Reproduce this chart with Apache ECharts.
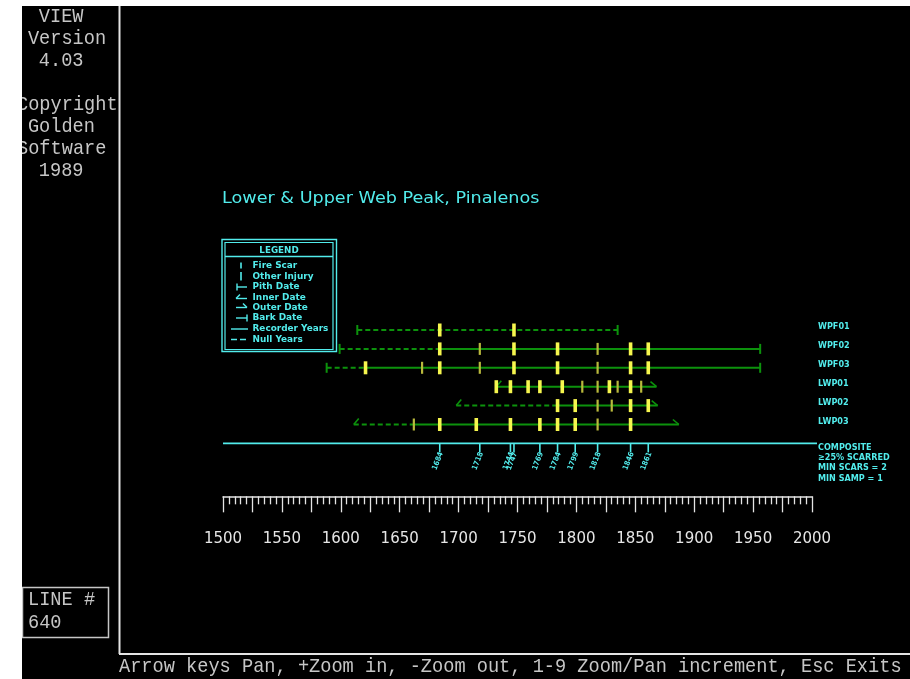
<!DOCTYPE html>
<html>
<head>
<meta charset="utf-8">
<script src="https://cdn.jsdelivr.net/npm/echarts@6/dist/echarts.min.js"></script>
<style>
  html, body { margin: 0; padding: 0; background: #ffffff; }
  #chart { position: absolute; left: 22px; top: 6px; width: 888px; height: 673px; background: #000000; overflow: hidden; }
</style>
</head>
<body>
<div id="chart"></div>
<script>
// Fire-scar history chart, Lower & Upper Web Peak, Pinalenos

const axisMin = 1500;
const axisMax = 2000;
const majorStep = 25;
const labelStep = 50;

const samples = ['WPF01', 'WPF02', 'WPF03', 'LWP01', 'LWP02', 'LWP03'];
const firstYears = [1614, 1599, 1588, 1732, 1698, 1611];
const firstKinds = ['pith', 'pith', 'pith', 'inner', 'inner', 'inner'];
const lastYears = [1835, 1956, 1956, 1868, 1869, 1887];
const lastKinds = ['bark', 'bark', 'bark', 'outer', 'outer', 'outer'];
// first recorder year of each sample (null years come before it; null = no recorder years)
const recorderFrom = [null, 1684, 1621, 1732, 1784, 1662];

const fireScars = [
  [1684, 1747],
  [1684, 1747, 1784, 1846, 1861],
  [1621, 1684, 1747, 1784, 1846, 1861],
  [1732, 1744, 1759, 1769, 1788, 1828, 1846],
  [1784, 1799, 1846, 1861],
  [1684, 1715, 1744, 1769, 1784, 1799, 1846]
];
const otherInjuries = [
  [],
  [1718, 1818],
  [1669, 1718, 1818],
  [1805, 1818, 1835, 1855],
  [1818, 1830],
  [1662, 1818]
];

const compositeYears = [1684, 1718, 1744, 1747, 1769, 1784, 1799, 1818, 1846, 1861];
const compositeNotes = ['COMPOSITE', '\u226525% SCARRED', 'MIN SCARS = 2', 'MIN SAMP = 1'];

const legendTitle = 'LEGEND';
const legendItems = ['Fire Scar', 'Other Injury', 'Pith Date', 'Inner Date', 'Outer Date', 'Bark Date', 'Recorder Years', 'Null Years'];
const chartTitle = 'Lower & Upper Web Peak, Pinalenos';

const sideText = ['VIEW', 'Version', '4.03', '', 'Copyright', 'Golden', 'Software', '1989'];
const sideColumn = [2, 1, 2, 0, 0, 1, 0, 2];
const lineBoxText = ['LINE #', '640'];
const statusText = 'Arrow keys Pan, +Zoom in, -Zoom out, 1-9 Zoom/Pan increment, Esc Exits';

// colours and fonts
const GREEN = '#0c920c';
const CYAN = '#52ecec';
const SCAR = '#f6f64e';
const INJURY = '#b9b93c';
const DOS = '#c6c6c6';
const FRAME = '#e4e4e4';
const SMALL = 'bold 9px "DejaVu Sans Condensed", "DejaVu Sans", sans-serif';
const MONO = '18px "Liberation Mono", "DejaVu Sans Mono", monospace';

// the chart canvas sits inside the white page margin
const OX = 22, OY = 6;
const X = v => v - OX;
const Y = v => v - OY;

const compositeRow = samples.length;

// ---- series data built from the arrays above ----
const sampleData = samples.map((_, i) => [firstYears[i], i]);
const markData = [];
fireScars.forEach((ys, i) => ys.forEach(y => markData.push([y, i, 0])));
otherInjuries.forEach((ys, i) => ys.forEach(y => markData.push([y, i, 1])));
const compositeData = compositeYears.map(y => [y, compositeRow]);

function seg(x1, y1, x2, y2, extra) {
  return {
    type: 'line',
    shape: { x1, y1, x2, y2 },
    style: Object.assign({ stroke: GREEN, lineWidth: 2 }, extra || {})
  };
}

function renderSample(params, api) {
  const i = api.value(1);
  const first = firstYears[i], last = lastYears[i];
  const split = recorderFrom[i] == null ? last : recorderFrom[i];
  const a = api.coord([first, i]);
  const b = api.coord([last, i]);
  const s = api.coord([split, i]);
  const cy = a[1];
  const kids = [];
  if (split > first) kids.push(seg(a[0], cy, s[0], cy, { lineDash: [5, 3] }));
  if (split < last) kids.push(seg(s[0], cy, b[0], cy));
  if (firstKinds[i] === 'pith') {
    kids.push(seg(a[0], cy - 5, a[0], cy + 5));
  } else {
    kids.push(seg(a[0], cy, a[0] + 5, cy - 6, { lineWidth: 1.6 }));
  }
  if (lastKinds[i] === 'bark') {
    kids.push(seg(b[0], cy - 5, b[0], cy + 5));
  } else {
    kids.push(seg(b[0] - 6, cy - 5, b[0], cy, { lineWidth: 1.6 }));
  }
  const r = api.coord([axisMax, i]);
  kids.push({
    type: 'text',
    style: { x: r[0] + 6, y: cy - 3, text: samples[i], fill: CYAN, font: SMALL, verticalAlign: 'middle' }
  });
  return { type: 'group', children: kids };
}

function renderMark(params, api) {
  const p = api.coord([api.value(0), api.value(1)]);
  const fire = api.value(2) === 0;
  const w = fire ? 3.6 : 2.2;
  const h = fire ? 13 : 12;
  return {
    type: 'rect',
    shape: { x: p[0] - w / 2, y: p[1] - h / 2, width: w, height: h },
    style: { fill: fire ? SCAR : INJURY }
  };
}

function renderComposite(params, api) {
  const p = api.coord([api.value(0), api.value(1)]);
  return {
    type: 'group',
    children: [
      { type: 'line', shape: { x1: p[0], y1: p[1], x2: p[0], y2: p[1] + 9 }, style: { stroke: CYAN, lineWidth: 1.6 } },
      {
        type: 'text',
        x: p[0] + 1.5, y: p[1] + 9,
        rotation: 1.2,
        style: { text: String(api.value(0)), fill: CYAN, font: 'bold 7.5px "DejaVu Sans Condensed", sans-serif', align: 'right', verticalAlign: 'middle' }
      }
    ]
  };
}

function renderBaseline(params, api) {
  const a = api.coord([axisMin, compositeRow]);
  const b = api.coord([axisMax, compositeRow]);
  const kids = [
    { type: 'line', shape: { x1: a[0], y1: a[1], x2: b[0] + 5, y2: b[1] }, style: { stroke: CYAN, lineWidth: 1.6 } }
  ];
  compositeNotes.forEach((t, k) => {
    kids.push({
      type: 'text',
      style: { x: b[0] + 6, y: a[1] + 4 + k * 10.3, text: t, fill: CYAN, font: SMALL, verticalAlign: 'middle' }
    });
  });
  return { type: 'group', children: kids };
}

// ---- legend box ----
function legendGraphic() {
  const g = [];
  const L = (x1, y1, x2, y2, extra) => ({
    type: 'line', shape: { x1: X(x1), y1: Y(y1), x2: X(x2), y2: Y(y2) },
    style: Object.assign({ stroke: CYAN, lineWidth: 1.4 }, extra || {})
  });
  g.push({ type: 'rect', shape: { x: X(222), y: Y(239.5), width: 114.5, height: 112 }, style: { fill: 'none', stroke: CYAN, lineWidth: 1.4 } });
  g.push({ type: 'rect', shape: { x: X(225), y: Y(242.5), width: 108, height: 107 }, style: { fill: 'none', stroke: CYAN, lineWidth: 1.2 } });
  g.push(L(225, 256.5, 333, 256.5));
  g.push({ type: 'text', x: X(279), y: Y(250.5), style: { text: legendTitle, fill: CYAN, font: SMALL, align: 'center', verticalAlign: 'middle' }, scaleX: 1.08 });
  const ys = [265.5, 276.5, 287, 297.5, 307.5, 318, 329, 339.5];
  legendItems.forEach((t, k) => {
    g.push({ type: 'text', x: X(252.5), y: Y(ys[k]), scaleX: 1.1, style: { text: t, fill: CYAN, font: SMALL, verticalAlign: 'middle' } });
  });
  const y = ys;
  g.push(L(241, y[0] - 3, 241, y[0] + 3, { lineWidth: 1.6 }));
  g.push(L(241, y[1] - 4.5, 241, y[1] + 4, { lineWidth: 1.6 }));
  g.push(L(237, y[2], 247, y[2]));
  g.push(L(237, y[2] - 3.5, 237, y[2] + 3.5));
  g.push(L(236, y[3] + 1, 247, y[3] + 1));
  g.push(L(236, y[3] + 1, 240, y[3] - 3));
  g.push(L(236, y[4], 247, y[4]));
  g.push(L(243, y[4] - 4, 247, y[4]));
  g.push(L(236, y[5], 247, y[5]));
  g.push(L(247, y[5] - 3.5, 247, y[5] + 3.5));
  g.push(L(231, y[6], 248, y[6]));
  g.push(L(231, y[7], 248, y[7], { lineDash: [6, 3] }));
  return g;
}

// ---- screen frame and text panels ----
function frameGraphic() {
  const g = [];
  const dosText = (t, x, y) => ({
    type: 'text', x: X(x), y: Y(y), scaleX: 1.035, scaleY: 1.12,
    style: { text: t, fill: DOS, font: MONO, verticalAlign: 'middle' }
  });
  g.push({ type: 'line', shape: { x1: X(119.5), y1: 0, x2: X(119.5), y2: Y(654) }, style: { stroke: FRAME, lineWidth: 2 } });
  g.push({ type: 'line', shape: { x1: X(119), y1: Y(654), x2: 888, y2: Y(654) }, style: { stroke: FRAME, lineWidth: 2 } });
  sideText.forEach((t, k) => {
    if (!t) return;
    g.push(dosText(t, 17 + sideColumn[k] * 10.9, 16.5 + k * 22));
  });
  g.push({ type: 'rect', shape: { x: 0.5, y: Y(587.5), width: 86, height: 50 }, style: { fill: 'none', stroke: DOS, lineWidth: 1.5 } });
  lineBoxText.forEach((t, k) => g.push(dosText(t, 28, 600 + k * 23)));
  g.push(dosText(statusText, 119, 667));
  g.push({ type: 'text', x: X(222), y: Y(199), scaleX: 1.1, style: { text: chartTitle, fill: CYAN, font: '16px "DejaVu Sans", sans-serif', verticalAlign: 'middle' } });
  return g;
}

const chart = echarts.init(document.getElementById('chart'), null, { renderer: 'canvas' });

// row spacing: rows at 330 + 18.9*i, axis line near y = 496
const rowStep = 18.9;
const yMin = -1, yMax = 8.8;

chart.setOption({
  backgroundColor: '#000000',
  animation: false,
  graphic: { elements: frameGraphic().concat(legendGraphic()) },
  grid: {
    left: X(223),
    right: 910 - 812,
    top: Y(330 - rowStep),
    height: (yMax - yMin) * rowStep,
    containLabel: false
  },
  xAxis: {
    type: 'value',
    min: axisMin,
    max: axisMax,
    interval: majorStep,
    axisLine: { show: true, onZero: false, lineStyle: { color: FRAME, width: 1.5 } },
    axisTick: { show: true, length: 16, lineStyle: { color: FRAME, width: 1.3 } },
    minorTick: { show: true, splitNumber: 5, length: 8, lineStyle: { color: FRAME, width: 1.3 } },
    splitLine: { show: false },
    minorSplitLine: { show: false },
    axisLabel: {
      margin: 35,
      color: '#e6e6e6',
      fontSize: 15,
      fontFamily: '"DejaVu Sans", sans-serif',
      formatter: v => (v % labelStep === 0 ? String(v) : '')
    }
  },
  yAxis: {
    type: 'value',
    inverse: true,
    min: yMin,
    max: yMax,
    show: false
  },
  series: [
    {
      type: 'custom', name: 'samples', data: sampleData, renderItem: renderSample,
      encode: { x: 0, y: 1 }, clip: false, z: 3
    },
    {
      type: 'custom', name: 'marks', data: markData, renderItem: renderMark,
      encode: { x: 0, y: 1 }, clip: false, z: 4
    },
    {
      type: 'custom', name: 'baseline', data: [[axisMin, compositeRow]], renderItem: renderBaseline,
      encode: { x: 0, y: 1 }, clip: false, z: 3
    },
    {
      type: 'custom', name: 'composite', data: compositeData, renderItem: renderComposite,
      encode: { x: 0, y: 1 }, clip: false, z: 4
    }
  ]
});
</script>
</body>
</html>
